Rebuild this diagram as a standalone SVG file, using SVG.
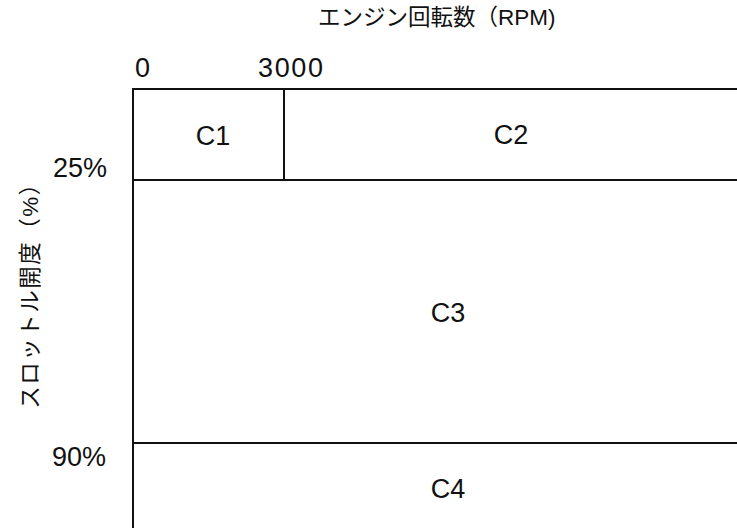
<svg xmlns="http://www.w3.org/2000/svg" width="737" height="528" viewBox="0 0 737 528">
<style>
.t{font-family:"Liberation Sans","Noto Sans CJK JP",sans-serif;fill:#111}
.jp{font-family:"Liberation Sans","Noto Sans CJK JP",sans-serif;font-size:22.5px;fill:#111}
.num{font-size:27px}
.lbl{font-size:27px;text-anchor:middle}
.ln{stroke:#111;stroke-width:2;fill:none}
</style>
<rect width="737" height="528" fill="#fff"/>
<g id="axes">
<text class="jp" x="318" y="25">エンジン回転数（RPM)</text>
<text class="t num" x="135" y="77">0</text>
<text class="t num" x="258" y="77" textLength="65">3000</text>
<text class="t num" x="53" y="177">25%</text>
<text class="t num" x="52" y="466">90%</text>
<text class="jp" font-size="25" letter-spacing="1.5" transform="translate(38,290) rotate(-90)" text-anchor="middle">スロットル開度（%）</text>
</g>
<g id="connectors">
<line class="ln" x1="133" y1="89" x2="737" y2="89"/>
<line class="ln" x1="133" y1="88" x2="133" y2="528"/>
<line class="ln" x1="284" y1="89" x2="284" y2="180"/>
<line class="ln" x1="133" y1="180" x2="737" y2="180"/>
<line class="ln" x1="133" y1="443" x2="737" y2="443"/>
</g>
<g id="C1"><text class="t lbl" x="213" y="145">C1</text></g>
<g id="C2"><text class="t lbl" x="511" y="144">C2</text></g>
<g id="C3"><text class="t lbl" x="448" y="322">C3</text></g>
<g id="C4"><text class="t lbl" x="448" y="498">C4</text></g>
</svg>
